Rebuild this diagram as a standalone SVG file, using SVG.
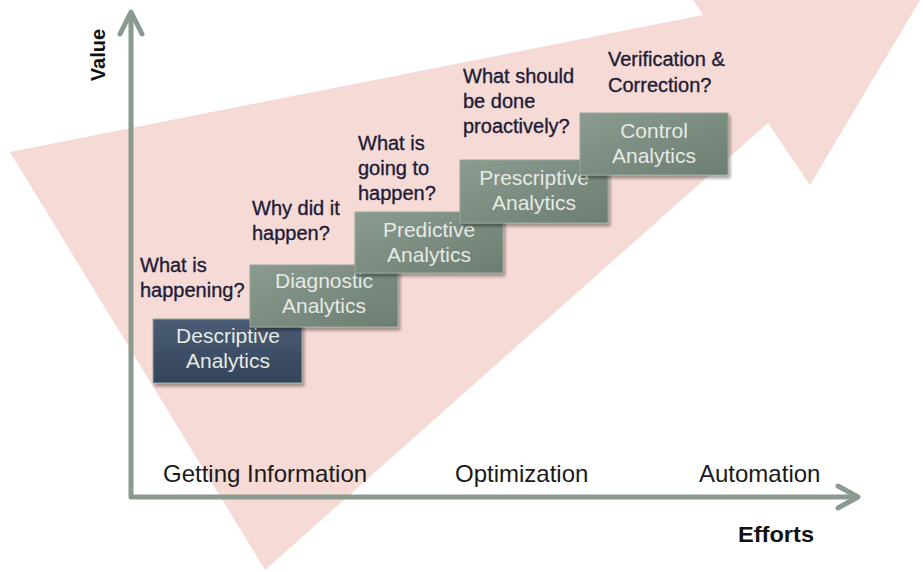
<svg xmlns="http://www.w3.org/2000/svg" width="923" height="572" viewBox="0 0 923 572">
<defs>
  <linearGradient id="gDark" x1="0" y1="0" x2="0" y2="1">
    <stop offset="0" stop-color="#4a5c74"/>
    <stop offset="1" stop-color="#33445a"/>
  </linearGradient>
  <linearGradient id="gGreen" x1="0" y1="0" x2="1" y2="1">
    <stop offset="0" stop-color="#8a9b8f"/>
    <stop offset="1" stop-color="#6c7d72"/>
  </linearGradient>
  <filter id="shadow" x="-10%" y="-10%" width="125%" height="135%">
    <feDropShadow dx="2" dy="3" stdDeviation="1.5" flood-color="#000" flood-opacity="0.35"/>
  </filter>
</defs>
<style>
  .q { font-family: "Liberation Sans", Arial, sans-serif; font-size: 20px; fill: #1c1c36; stroke: #1c1c36; stroke-width: 0.35; }
  .bt { font-family: "Liberation Sans", Arial, sans-serif; font-size: 21px; fill: #e6eae4; text-anchor: middle; }
  .ax { font-family: "Liberation Sans", Arial, sans-serif; font-size: 24px; fill: #1a1a1a; }
  .axb { font-family: "Liberation Sans", Arial, sans-serif; font-weight: bold; fill: #111; }
  .box { stroke: #9aa89e; stroke-width: 1; filter: url(#shadow); }
  .axis { fill: none; stroke: #8a9a8f; stroke-width: 5; stroke-linejoin: round; stroke-linecap: round; }
</style>
<rect width="923" height="572" fill="#ffffff"/>
<g id="background-arrow">
  <polygon points="10,152 703,15 680,-20 944,-40 810,185 768,123 265,570" fill="#f6dad6"/>
</g>
<g id="connectors">
  <polyline class="axis" points="131,14 131,497 856,497"/>
  <polyline class="axis" points="120,34 131,12 142,34"/>
  <polyline class="axis" points="838,486 858,497 838,508"/>
</g>
<g id="labels-axes">
  <text class="axb" font-size="20" text-anchor="middle" transform="translate(105,55) rotate(-90)">Value</text>
  <text class="axb" font-size="22" x="738" y="542" textLength="76" lengthAdjust="spacingAndGlyphs">Efforts</text>
  <text class="ax" x="163" y="482">Getting Information</text>
  <text class="ax" x="455" y="482">Optimization</text>
  <text class="ax" x="699" y="482">Automation</text>
</g>
<g id="node-descriptive">
  <rect class="box" x="153" y="319" width="149" height="64" fill="url(#gDark)"/>
  <text class="bt" x="228" y="343" font-size="22">Descriptive</text>
  <text class="bt" x="228" y="368" font-size="22">Analytics</text>
</g>
<g id="q-descriptive">
  <text class="q" x="140" y="272">What is</text>
  <text class="q" x="140" y="297">happening?</text>
</g>
<g id="node-diagnostic">
  <rect class="box" x="250" y="265" width="148" height="62" fill="url(#gGreen)"/>
  <text class="bt" x="324" y="288">Diagnostic</text>
  <text class="bt" x="324" y="313">Analytics</text>
</g>
<g id="q-diagnostic">
  <text class="q" x="252" y="215">Why did it</text>
  <text class="q" x="252" y="240">happen?</text>
</g>
<g id="node-predictive">
  <rect class="box" x="355" y="212" width="148" height="61" fill="url(#gGreen)"/>
  <text class="bt" x="429" y="237">Predictive</text>
  <text class="bt" x="429" y="262">Analytics</text>
</g>
<g id="q-predictive">
  <text class="q" x="358" y="150">What is</text>
  <text class="q" x="358" y="175">going to</text>
  <text class="q" x="358" y="200">happen?</text>
</g>
<g id="node-prescriptive">
  <rect class="box" x="460" y="160" width="148" height="63" fill="url(#gGreen)"/>
  <text class="bt" x="534" y="185">Prescriptive</text>
  <text class="bt" x="534" y="210">Analytics</text>
</g>
<g id="q-prescriptive">
  <text class="q" x="463" y="83">What should</text>
  <text class="q" x="463" y="108">be done</text>
  <text class="q" x="463" y="133">proactively?</text>
</g>
<g id="node-control">
  <rect class="box" x="580" y="113" width="148" height="62" fill="url(#gGreen)"/>
  <text class="bt" x="654" y="138">Control</text>
  <text class="bt" x="654" y="163">Analytics</text>
</g>
<g id="q-control">
  <text class="q" x="608" y="66">Verification &amp;</text>
  <text class="q" x="608" y="92">Correction?</text>
</g>
</svg>
